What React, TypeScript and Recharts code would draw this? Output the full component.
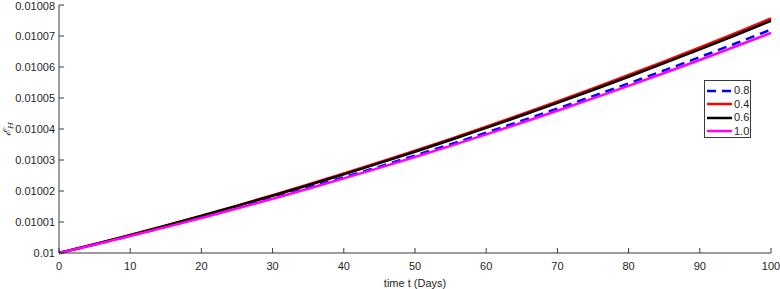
import React from "react";
import { LineChart, Line, XAxis, YAxis, Legend } from "recharts";

const days = [0, 5, 10, 15, 20, 25, 30, 35, 40, 45, 50, 55, 60, 65, 70, 75, 80, 85, 90, 95, 100];

const alpha08 = [0.01, 0.01000273, 0.01000555, 0.01000847, 0.01001147, 0.01001456, 0.01001776, 0.01002104, 0.01002442, 0.01002788, 0.01003144, 0.01003508, 0.01003883, 0.01004266, 0.01004658, 0.01005059, 0.0100547, 0.0100589, 0.01006319, 0.01006758, 0.01007205];
const alpha04 = [0.01, 0.01000287, 0.01000583, 0.01000889, 0.01001204, 0.01001529, 0.01001864, 0.01002209, 0.01002563, 0.01002927, 0.01003301, 0.01003683, 0.01004076, 0.01004478, 0.0100489, 0.01005312, 0.01005743, 0.01006184, 0.01006635, 0.01007095, 0.01007565];
const alpha06 = [0.01, 0.01000284, 0.01000577, 0.0100088, 0.01001192, 0.01001514, 0.01001846, 0.01002187, 0.01002538, 0.01002898, 0.01003268, 0.01003647, 0.01004036, 0.01004434, 0.01004842, 0.01005259, 0.01005686, 0.01006123, 0.01006569, 0.01007025, 0.0100749];
const alpha10 = [0.01, 0.01000269, 0.01000547, 0.01000834, 0.0100113, 0.01001435, 0.0100175, 0.01002073, 0.01002406, 0.01002747, 0.01003098, 0.01003457, 0.01003826, 0.01004203, 0.0100459, 0.01004986, 0.0100539, 0.01005805, 0.01006227, 0.0100666, 0.01007101];

const xTicks = [0, 10, 20, 30, 40, 50, 60, 70, 80, 90, 100];
const yTicks = [0.01, 0.01001, 0.01002, 0.01003, 0.01004, 0.01005, 0.01006, 0.01007, 0.01008];

const series = [
  { key: "a08", name: "0.8", color: "#0000ff", dash: "9 6" },
  { key: "a04", name: "0.4", color: "#ff0000", dash: undefined },
  { key: "a06", name: "0.6", color: "#000000", dash: undefined },
  { key: "a10", name: "1.0", color: "#ff00ff", dash: undefined },
];

const data = days.map((d, i) => ({
  t: d,
  a08: alpha08[i],
  a04: alpha04[i],
  a06: alpha06[i],
  a10: alpha10[i],
}));

const font = "'Liberation Sans', Arial, Helvetica, sans-serif";
const axisColor = "#3a3a3a";
const textColor = "#262626";

const fmtY = (v: number) => Number(v.toFixed(5)).toString();

// y-axis label: script E with subscript H, rotated like matlab's ylabel
const YLabel = () => (
  <text
    transform="rotate(-90, 11, 129)"
    x={11}
    y={129}
    textAnchor="middle"
    fontFamily="'DejaVu Serif', serif"
    fontStyle="italic"
    fontSize={11}
    fill={textColor}
  >
    ℰ
    <tspan fontSize={8} dy={2}>H</tspan>
  </text>
);

const LegendBox = () => (
  <div
    style={{
      width: 47,
      height: 58,
      border: `1px solid ${axisColor}`,
      background: "#fff",
      boxSizing: "border-box",
      paddingTop: 3,
    }}
  >
    {series.map((s) => (
      <div
        key={s.key}
        style={{ display: "flex", alignItems: "center", height: 13.5 }}
      >
        <svg width={29} height={8} style={{ display: "block" }}>
          <line
            x1={2}
            x2={27}
            y1={4}
            y2={4}
            stroke={s.color}
            strokeWidth={2.5}
            strokeDasharray={s.dash}
          />
        </svg>
        <span
          style={{ fontFamily: font, fontSize: 11, color: textColor, lineHeight: "11px" }}
        >
          {s.name}
        </span>
      </div>
    ))}
  </div>
);

export default function App() {
  return (
    <div style={{ position: "absolute", left: 0, top: 0, background: "#fff" }}>
      <LineChart
        width={780}
        height={289}
        data={data}
        margin={{ top: 5, right: 9, left: 0, bottom: 0 }}
      >
        <XAxis
          dataKey="t"
          type="number"
          domain={[0, 100]}
          ticks={xTicks}
          height={36}
          tickSize={-5}
          tickMargin={14}
          stroke={axisColor}
          tick={{ fill: textColor, fontSize: 11, fontFamily: font }}
          label={{
            value: "time t (Days)",
            position: "insideBottom",
            offset: 2,
            fill: textColor,
            fontSize: 11,
            fontFamily: font,
          }}
        />
        <XAxis
          xAxisId="top"
          orientation="top"
          type="number"
          domain={[0, 100]}
          ticks={xTicks}
          height={0}
          tickSize={-5}
          tick={false}
          stroke={axisColor}
        />
        <YAxis
          type="number"
          domain={[0.01, 0.01008]}
          ticks={yTicks}
          width={59}
          tickSize={-5}
          tickMargin={9}
          tickFormatter={fmtY}
          stroke={axisColor}
          tick={{ fill: textColor, fontSize: 11, fontFamily: font }}
          label={<YLabel />}
        />
        <YAxis
          yAxisId="right"
          orientation="right"
          type="number"
          domain={[0.01, 0.01008]}
          ticks={yTicks}
          width={0}
          tickSize={-5}
          tick={false}
          stroke={axisColor}
        />
        <Legend
          layout="horizontal"
          verticalAlign="middle"
          align="center"
          content={<LegendBox />}
          wrapperStyle={{ position: "absolute", left: 704, top: 80, width: 47, height: 58 }}
        />
        {series.map((s) => (
          <Line
            key={s.key}
            dataKey={s.key}
            name={s.name}
            type="linear"
            stroke={s.color}
            strokeWidth={2.5}
            strokeDasharray={s.dash}
            dot={false}
            activeDot={false}
            isAnimationActive={false}
          />
        ))}
      </LineChart>
    </div>
  );
}
